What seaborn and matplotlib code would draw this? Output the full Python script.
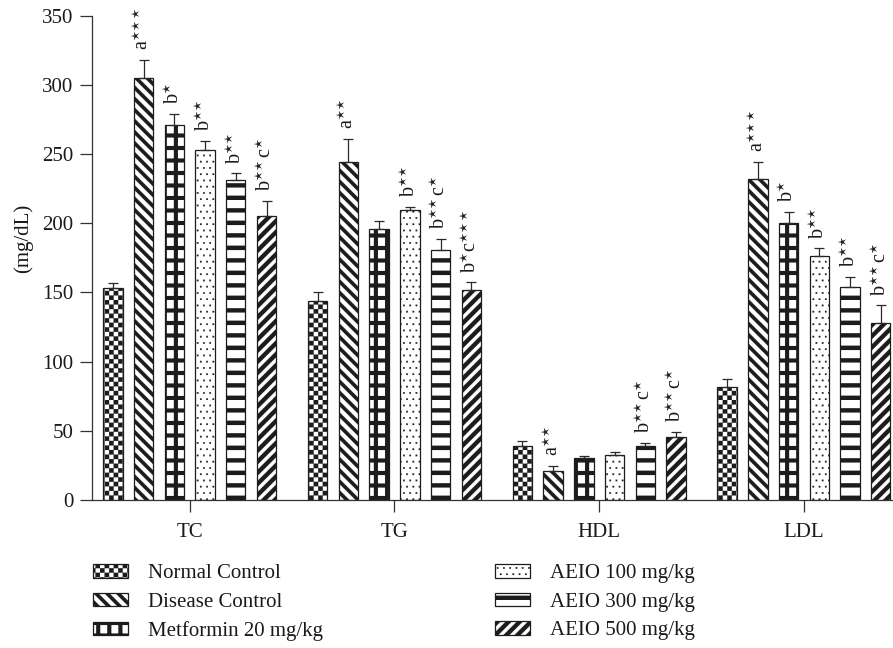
import numpy as np
import pandas as pd
import matplotlib
matplotlib.use("Agg")
import matplotlib.pyplot as plt
import matplotlib.hatch as mhatch
from matplotlib.path import Path
from matplotlib.patches import Patch
import seaborn as sns

# ---------------- data ----------------
params = ["TC", "TG", "HDL", "LDL"]
groups = ["Normal Control", "Disease Control", "Metformin 20 mg/kg",
          "AEIO 100 mg/kg", "AEIO 300 mg/kg", "AEIO 500 mg/kg"]

normal = [153, 144, 39, 82]
disease = [305, 244, 21, 232]
metformin = [271, 196, 30, 200]
aeio100 = [253, 209.5, 32.3, 176.5]
aeio300 = [231, 180.5, 39, 154]
aeio500 = [205, 151.5, 45.5, 128]

normal_err = [4, 6, 3.6, 5.3]
disease_err = [13.3, 17, 3.9, 12.5]
metformin_err = [8, 5.3, 1.9, 8]
aeio100_err = [6.5, 2.4, 2.4, 5.3]
aeio300_err = [5, 8, 2.2, 7.2]
aeio500_err = [11, 5.8, 3.5, 12.6]

S1 = r"$^{\star}$"
S2 = r"$^{\star\!\star}$"
S3 = r"$^{\star\!\star\!\star}$"
normal_sig = ["", "", "", ""]
disease_sig = ["a" + S3, "a" + S2, "a" + S2, "a" + S3]
metformin_sig = ["b" + S1, "", "", "b" + S1]
aeio100_sig = ["b" + S2, "b" + S2, "", "b" + S2]
aeio300_sig = ["b" + S2, "b" + S2 + "c" + S1, "b" + S2 + "c" + S1, "b" + S2]
aeio500_sig = ["b" + S2 + "c" + S1, "b" + S1 + "c" + S3, "b" + S2 + "c" + S1, "b" + S2 + "c" + S1]

values = [normal, disease, metformin, aeio100, aeio300, aeio500]
errors = [normal_err, disease_err, metformin_err, aeio100_err, aeio300_err, aeio500_err]
sigs = [normal_sig, disease_sig, metformin_sig, aeio100_sig, aeio300_sig, aeio500_sig]

df = pd.DataFrame([
    {"param": p, "group": g, "value": v}
    for g, vals in zip(groups, values)
    for p, v in zip(params, vals)
])

# ---------------- style ----------------
sns.set_style("ticks")
plt.rcParams["font.family"] = ["Liberation Serif", "DejaVu Serif"]
plt.rcParams["mathtext.fontset"] = "stix"
plt.rcParams["hatch.linewidth"] = 0.1
EDGE = "#1c1c1c"
TXT = "#1a1a1a"

W, H = 893, 648
fig = plt.figure(figsize=(W / 100, H / 100), dpi=100)
ax = fig.add_axes([92 / W, 148 / H, 801 / W, 484.3 / H])

sns.barplot(data=df, x="param", y="value", hue="group", order=params,
            hue_order=groups, palette=["white"] * 6, saturation=1,
            width=0.9, gap=0.37, errorbar=None, edgecolor=EDGE,
            linewidth=0.9, legend=False, ax=ax)

ax.set_xlim(-0.4775, 3.435)
ax.set_ylim(0, 350)
ax.set_yticks(np.arange(0, 351, 50))
sns.despine(ax=ax)
for s in ["left", "bottom"]:
    ax.spines[s].set_color("#333333")
    ax.spines[s].set_linewidth(0.9)
ax.tick_params(axis="both", length=8.5, width=0.9, color="#333333",
               labelsize=15, labelcolor=TXT)
ax.tick_params(axis="y", pad=5)
ax.tick_params(axis="x", pad=8)
ax.set_xlabel("")
ax.set_ylabel("(mg/dL)", fontsize=15, color=TXT)
ax.yaxis.set_label_coords(-0.073, 0.54)

containers = sorted(ax.containers, key=lambda c: c[0].get_x())

# ---------------- custom hatch patterns ----------------
def rect_path(rects):
    verts, codes = [], []
    for x0, y0, x1, y1 in rects:
        verts += [(x0, y0), (x1, y0), (x1, y1), (x0, y1), (x0, y0)]
        codes += [Path.MOVETO, Path.LINETO, Path.LINETO, Path.LINETO, Path.CLOSEPOLY]
    return verts, codes

def poly_path(polys):
    verts, codes = [], []
    for poly in polys:
        verts += list(poly) + [poly[0]]
        codes += [Path.MOVETO] + [Path.LINETO] * (len(poly) - 1) + [Path.CLOSEPOLY]
    return verts, codes

def checker(n):
    r = [(i / n, j / n, (i + 1) / n, (j + 1) / n)
         for i in range(n) for j in range(n) if (i + j) % 2 == 0]
    return Path(*rect_path(r))

def back_diag(n, w):
    polys = []
    for k in range(-2, 2 * n + 2):
        c = k / n
        polys.append([(-1, c + 1), (2, c - 2), (2, c + w - 2), (-1, c + w + 1)])
    return Path(*poly_path(polys))

def fwd_diag(n, w):
    polys = []
    for k in range(-n - 2, n + 2):
        c = k / n
        polys.append([(-1, c - 1), (2, c + 2), (2, c + w + 2), (-1, c + w - 1)])
    return Path(*poly_path(polys))

def horiz(n, w):
    r = [(-0.1, k / n, 1.1, k / n + w) for k in range(n)]
    return Path(*rect_path(r))

def grid(nh, wh, nv, wv, phase):
    r = [(-0.1, k / nh, 1.1, k / nh + wh) for k in range(nh)]
    for k in range(-1, nv + 1):
        c = phase + k / nv
        r.append((c - wv / 2, -0.1, c + wv / 2, 1.1))
    return Path(*rect_path(r))

def dots(n, s):
    r = []
    for j in range(n):
        off = 0.5 / n if j % 2 else 0.0
        for i in range(-1, n + 1):
            x = i / n + off
            y = j / n
            r.append((x, y, x + s, y + s))
    return Path(*rect_path(r))

# phase of the vertical stripe of the grid pattern so that it sits on bar centres
NV = 9
per = 1 / NV
cx = [ax.transData.transform((b.get_x() + b.get_width() / 2, 0))[0] for b in containers[2]]
ang = [2 * np.pi * (((c / 100.0) % per) / per) for c in cx]
mean_ang = np.arctan2(np.mean(np.sin(ang)), np.mean(np.cos(ang))) % (2 * np.pi)
grid_phase = mean_ang / (2 * np.pi) * per

KEYS = ["OO", "OOO", "OOOO", "OOOOO", "OOOOOO", "OOOOOOO"]
CUSTOM = {
    "OO": checker(22),
    "OOO": back_diag(9, 0.05),
    "OOOO": grid(8, 0.04, NV, 0.04, grid_phase),
    "OOOOO": dots(16, 0.016),
    "OOOOOO": horiz(8, 0.043),
    "OOOOOOO": fwd_diag(9, 0.06),
}
_orig_get_path = mhatch.get_path

def _custom_get_path(hatchpattern, density=6):
    if hatchpattern in CUSTOM:
        return CUSTOM[hatchpattern]
    return _orig_get_path(hatchpattern, density)

mhatch.get_path = _custom_get_path
Path.hatch.cache_clear()

# ---------------- bars styling, error bars, annotations ----------------
for cont, key, vals, errs, labs in zip(containers, KEYS, values, errors, sigs):
    xs = []
    for bar in cont:
        bar.set_hatch(key)
        bar.set_edgecolor(EDGE)
        xs.append(bar.get_x() + bar.get_width() / 2)
    ax.errorbar(xs, vals, yerr=[np.zeros(len(errs)), errs], fmt="none",
                ecolor="#2a2a2a", elinewidth=0.9, capsize=3.3,
                capthick=0.9, zorder=3)
    for x, v, e, lab in zip(xs, vals, errs, labs):
        if lab:
            ax.annotate(lab, xy=(x, v + e), xytext=(0, 7),
                        textcoords="offset points", rotation=90,
                        ha="center", va="bottom", fontsize=14.5, color=TXT)

# ---------------- legend ----------------
handles = [Patch(facecolor="white", edgecolor=EDGE, hatch=k, linewidth=0.9,
                 label=g) for k, g in zip(KEYS, groups)]
leg_kw = dict(frameon=False, fontsize=15, handlelength=1.68, handleheight=0.63,
              handletextpad=0.96, labelspacing=0.45, borderpad=0,
              borderaxespad=0, loc="upper left", labelcolor=TXT)
fig.legend(handles=handles[:3], bbox_to_anchor=(93 / W, 1 - 564 / H), **leg_kw)
fig.legend(handles=handles[3:], bbox_to_anchor=(495 / W, 1 - 564 / H), **leg_kw)

fig.savefig("out.png", dpi=100)
